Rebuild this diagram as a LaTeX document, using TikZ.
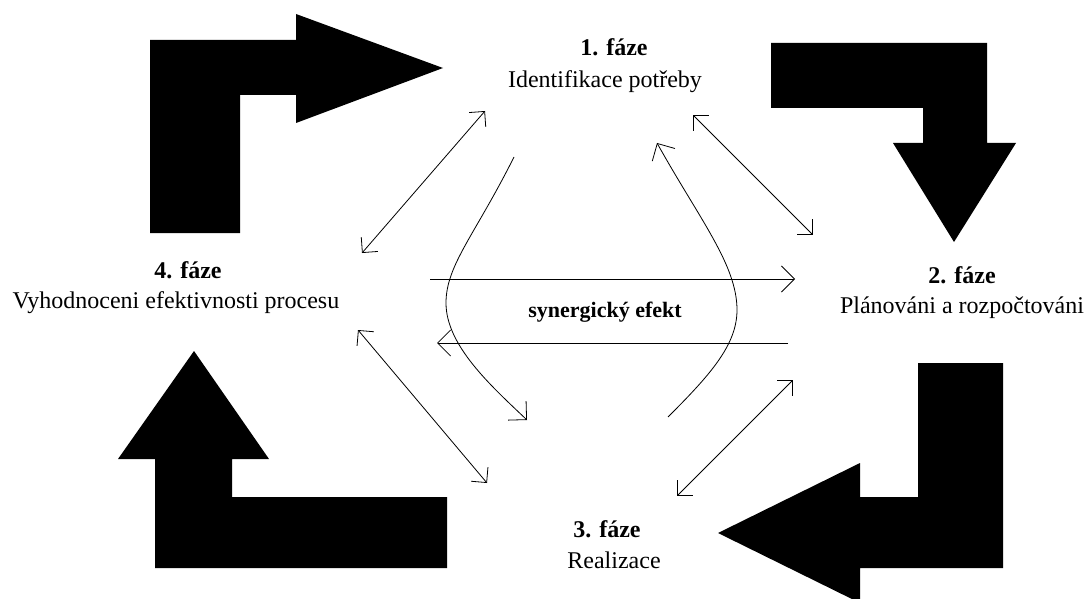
\documentclass[tikz,border=0pt]{standalone}
\usepackage{fontspec}
\setmainfont{Liberation Serif}
\usetikzlibrary{arrows.meta,positioning}

\begin{document}
\begin{tikzpicture}[
  x=1pt, y=-1pt,
  bigarrow/.style={fill=black},
  link/.style={{Straight Barb[length=11pt,width=22pt]}-{Straight Barb[length=11pt,width=22pt]},line width=0.8pt},
  flow/.style={-{Straight Barb[length=13pt,width=26pt]},line width=0.8pt},
  phase/.style={font=\fontsize{24}{29}\selectfont\bfseries,anchor=base,inner sep=0pt},
  desc/.style={font=\fontsize{24}{29}\selectfont,anchor=base,inner sep=0pt}
]
\clip (0,0) rectangle (1092,599);

% big arrows round the cycle
\fill[bigarrow] (150,233) -- (150,40) -- (296,40) -- (296,14) -- (443,68)
  -- (296,123) -- (296,95) -- (240,95) -- (240,233) -- cycle;
\fill[bigarrow] (771,43) -- (987,43) -- (987,143) -- (1016,143) -- (954,242)
  -- (893,143) -- (923,143) -- (923,108) -- (771,108) -- cycle;
\fill[bigarrow] (918,363) -- (1003,363) -- (1003,568) -- (860,568) -- (860,603)
  -- (718,533) -- (860,463) -- (860,497) -- (918,497) -- cycle;
\fill[bigarrow] (155,568) -- (447,568) -- (447,497) -- (232,497) -- (232,459)
  -- (269,459) -- (194,351) -- (118,459) -- (155,459) -- cycle;

% phases
\node[phase] (ph1) at (614,56) {1. fáze};
\node[desc] (ph1txt) at (605,88) {Identifikace potřeby};
\node[phase] (ph2) at (962,283) {2. fáze};
\node[desc] (ph2txt) at (962,313) {Plánováni a rozpočtováni};
\node[phase] (ph3) at (607,537) {3. fáze};
\node[desc] (ph3txt) at (614,568) {Realizace};
\node[phase] (ph4) at (188,278) {4. fáze};
\node[desc] (ph4txt) at (176,308) {Vyhodnoceni efektivnosti procesu};

\node[font=\fontsize{22}{26}\selectfont\bfseries,anchor=base,inner sep=0pt] (syn) at (605,317) {synergický efekt};

% ends of the links
\coordinate (a1) at (485,111);
\coordinate (a4) at (362,253);
\coordinate (b1) at (693,115);
\coordinate (b2) at (813,235);
\coordinate (d4) at (358,330);
\coordinate (d3) at (487,483);
\coordinate (e2) at (793,380);
\coordinate (e3) at (677,496);
\coordinate (h1) at (430,279);
\coordinate (h2) at (795,279);
\coordinate (g1) at (788,343);
\coordinate (g2) at (437,343);
\coordinate (cl1) at (514,157);
\coordinate (cl2) at (527,420);
\coordinate (cr1) at (668,417);
\coordinate (cr2) at (657,143);

\draw[link] (a1) -- (a4);
\draw[link] (b1) -- (b2);
\draw[link] (d4) -- (d3);
\draw[link] (e2) -- (e3);

\draw[flow] (h1) -- (h2);
\draw[flow] (g1) -- (g2);
\draw[flow] (cl1) .. controls (475,235) and (446,265) .. (446,303)
  .. controls (446,345) and (490,385) .. (cl2);
\draw[flow] (cr1) .. controls (710,375) and (737,345) .. (737,310)
  .. controls (737,265) and (700,220) .. (cr2);
\end{tikzpicture}
\end{document}
